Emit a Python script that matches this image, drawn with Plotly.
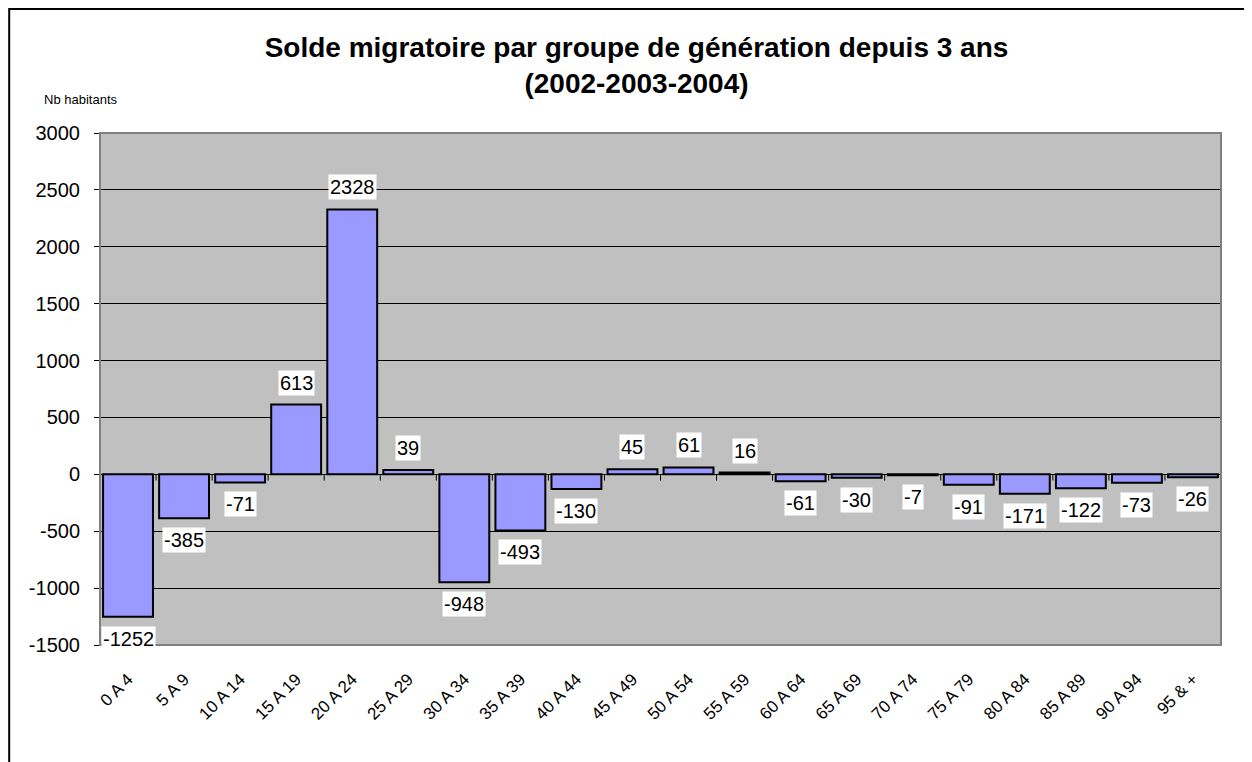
import plotly.graph_objects as go

categories = ["0 A 4", "5 A 9", "10 A 14", "15 A 19", "20 A 24", "25 A 29", "30 A 34",
              "35 A 39", "40 A 44", "45 A 49", "50 A 54", "55 A 59", "60 A 64", "65 A 69",
              "70 A 74", "75 A 79", "80 A 84", "85 A 89", "90 A 94", "95 & +"]
values = [-1252, -385, -71, 613, 2328, 39, -948, -493, -130, 45, 61, 16, -61, -30,
          -7, -91, -171, -122, -73, -26]
y_ticks = [-1500, -1000, -500, 0, 500, 1000, 1500, 2000, 2500, 3000]
y_tick_text = [str(t) for t in y_ticks]

FONT = "Liberation Sans, Arial, sans-serif"

fig = go.Figure()
fig.add_trace(go.Bar(
    x=categories, y=values,
    marker=dict(color="#9999FF", line=dict(color="black", width=2)),
    hoverinfo="x+y",
))

for c, v in zip(categories, values):
    fig.add_annotation(
        x=c, y=v, text=str(v), showarrow=False,
        yanchor="bottom" if v > 0 else "top",
        yshift=9 if v > 0 else -9,
        bgcolor="white", borderpad=1,
        font=dict(family=FONT, size=20, color="black"),
    )

fig.add_annotation(
    xref="paper", yref="paper", x=-0.052, y=1.046, xanchor="left", yanchor="bottom",
    text="Nb habitants", showarrow=False,
    font=dict(family=FONT, size=13, color="black"),
)

# category-boundary tick marks on the zero line (x axis crosses at 0)
for i in range(len(categories) + 1):
    fig.add_shape(type="line", xref="x", yref="y",
                  x0=i - 0.5, x1=i - 0.5, y0=0, y1=-55,
                  line=dict(color="black", width=1), layer="above")

# outer chart border
fig.add_shape(type="rect", xref="paper", yref="paper",
              x0=-0.081, x1=1.06, y0=-0.3, y1=1.242,
              line=dict(color="black", width=2), layer="below")
# plot area border
fig.add_shape(type="rect", xref="paper", yref="paper",
              x0=0, x1=1, y0=0, y1=1,
              line=dict(color="#808080", width=2), layer="above")

fig.update_layout(
    width=1252, height=762,
    margin=dict(l=92, r=39, t=125, b=125),
    paper_bgcolor="white",
    plot_bgcolor="#C0C0C0",
    bargap=0.11,
    showlegend=False,
    title=dict(
        text="<b>Solde migratoire par groupe de génération depuis 3 ans<br>(2002-2003-2004)</b>",
        x=0.502, xanchor="center", y=0.936, yanchor="middle",
        font=dict(family=FONT, size=28, color="black"),
    ),
    font=dict(family=FONT, color="black"),
    xaxis=dict(
        tickangle=-45, tickfont=dict(family=FONT, size=17, color="black"),
        showgrid=False, showline=False, ticks="", ticklen=0,
        ticklabelstandoff=20, range=[-0.5, len(categories) - 0.5],
    ),
    yaxis=dict(
        range=[-1500, 3000], tickvals=y_ticks, ticktext=y_tick_text,
        tickfont=dict(family=FONT, size=20, color="black"),
        showgrid=True, gridcolor="black", gridwidth=1,
        zeroline=True, zerolinecolor="black", zerolinewidth=1,
        showline=True, linecolor="black", linewidth=1,
        ticks="outside", ticklen=5, tickcolor="black",
        ticklabelstandoff=10,
    ),
)

fig.write_html("out.html")
